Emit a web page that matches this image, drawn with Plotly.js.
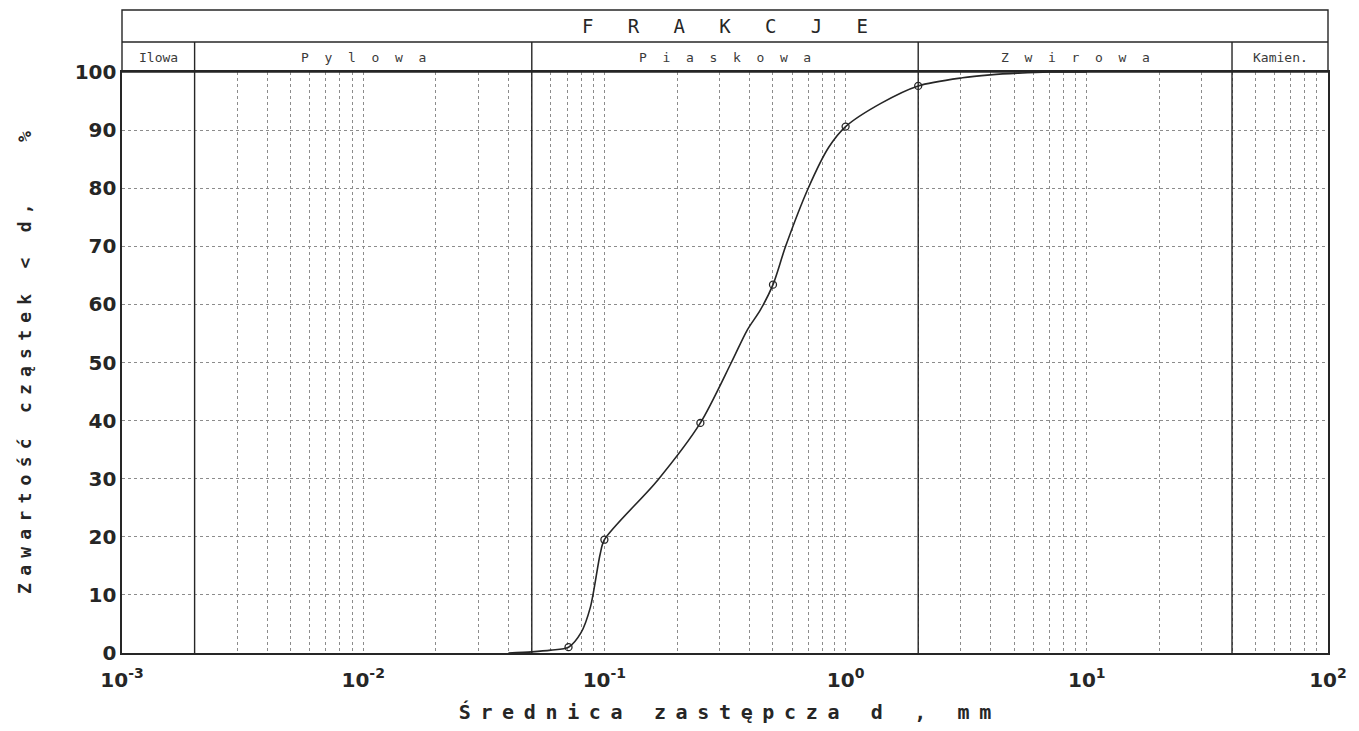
<!DOCTYPE html>
<html>
<head>
<meta charset="utf-8">
<script src="https://cdn.plot.ly/plotly-3.0.1.min.js"></script>
<style>
  html, body { margin: 0; padding: 0; background: #ffffff; }
  #chart { width: 1359px; height: 731px; }
</style>
</head>
<body>
<div id="chart"></div>
<script>
// ---- data ----
const sieveD    = [0.071, 0.1, 0.25, 0.5, 1.0, 2.0];
const sievePass = [1.0, 19.5, 39.6, 63.4, 90.6, 97.6];

const curveD    = [0.04, 0.05, 0.06, 0.071, 0.08, 0.0875, 0.096, 0.1, 0.166, 0.25, 0.336, 0.39, 0.444, 0.5, 0.564, 0.70, 0.85, 1.0, 1.4, 2.0, 3.05, 3.98, 5.2, 7.0, 10.0];
const curvePass = [0, 0.2, 0.5, 1.0, 3.5, 7.9, 17.0, 19.5, 29.7, 39.6, 50.0, 55.5, 59.1, 63.4, 70.0, 80.0, 87.0, 90.6, 94.6, 97.6, 99.0, 99.5, 99.8, 100, 100];

const fractionBounds = [0.002, 0.05, 2, 40];
const fractionNames  = ["Ilowa", "P y l o w a", "P i a s k o w a", "Z w i r o w a", "Kamien."];
const headerTitle    = "FRAKCJE";

const xRange = [0.001, 100];
const decadeExp = [-3, -2, -1, 0, 1, 2];
const yTicks = [0, 10, 20, 30, 40, 50, 60, 70, 80, 90, 100];

const xTitleText = "Średnica zastępcza d , mm";
const yTitleText = "Zawartość cząstek < d,   %";

// ---- helpers ----
const NB = "\u00a0";
// plotter-like letter spacing: every glyph followed by a smaller non-breaking gap
function spaced(s, gapPx) {
  const gap = '<span style="font-size:' + gapPx + 'px">' + NB + '</span>';
  return Array.from(s).map((c, i, a) => (c === " " ? NB : c) + (i < a.length - 1 ? gap : "")).join("");
}

// major ticks at decades, minor grid at 2..9 x decade
const xTickVals = [], xTickText = [], xMinorVals = [];
decadeExp.forEach(e => {
  const d = Math.pow(10, e);
  xTickVals.push(d);
  xTickText.push("10<sup>" + e + "</sup>");
  if (d < xRange[1]) for (let m = 2; m <= 9; m++) xMinorVals.push(m * d);
});

const ink = "#262626";
const gridC = "#8c8c8c";

const traces = [
  {
    x: curveD, y: curvePass, type: "scatter", mode: "lines",
    line: { color: ink, width: 1.6, shape: "spline", smoothing: 0.8 },
    hoverinfo: "skip", showlegend: false
  },
  {
    x: sieveD, y: sievePass, type: "scatter", mode: "markers",
    marker: { symbol: "circle-open", size: 7, color: ink, line: { width: 1.3, color: ink } },
    showlegend: false
  }
];

// header geometry in paper units (above the plot)
const hdrTop = 1.1067, hdrMid = 1.0516;

const shapes = [
  { type: "rect", xref: "paper", yref: "paper", x0: 0, x1: 1, y0: 1, y1: hdrTop, line: { color: ink, width: 1.4 } },
  { type: "line", xref: "paper", yref: "paper", x0: 0, x1: 1, y0: hdrMid, y1: hdrMid, line: { color: ink, width: 1.4 } }
];
fractionBounds.forEach(b => {
  shapes.push({ type: "line", xref: "x", yref: "paper", x0: b, x1: b, y0: 0, y1: hdrMid, line: { color: ink, width: 1.4 } });
});

const edges = [xRange[0]].concat(fractionBounds, [xRange[1]]);
const annotations = [
  { xref: "paper", yref: "paper", x: 0.5, y: (hdrTop + hdrMid) / 2, text: Array.from(headerTitle).join(NB + NB + NB), showarrow: false,
    font: { family: "DejaVu Sans Mono", size: 19, color: ink }, xanchor: "center", yanchor: "middle" }
];
fractionNames.forEach((name, i) => {
  const c = (Math.log10(edges[i]) + Math.log10(edges[i + 1])) / 2;
  annotations.push({ xref: "x", yref: "paper", x: c, y: (hdrMid + 1) / 2, text: name.split(" ").join(NB + NB), showarrow: false,
    font: { family: "DejaVu Sans Mono", size: 13, color: "#3a3a3a" }, xanchor: "center", yanchor: "middle" });
});

const layout = {
  width: 1359, height: 731,
  margin: { l: 122, r: 31, t: 72, b: 78 },
  paper_bgcolor: "#ffffff", plot_bgcolor: "#ffffff",
  showlegend: false,
  xaxis: {
    type: "log", range: [Math.log10(xRange[0]), Math.log10(xRange[1])],
    tickmode: "array", tickvals: xTickVals, ticktext: xTickText,
    showgrid: true, gridcolor: gridC, griddash: "dot", gridwidth: 1,
    minor: { tickmode: "array", tickvals: xMinorVals, showgrid: true, gridcolor: gridC, griddash: "dot", gridwidth: 1, ticks: "" },
    showline: true, linecolor: ink, linewidth: 1.6, mirror: true,
    zeroline: false, ticks: "", ticklabelstandoff: 8,
    tickfont: { family: "DejaVu Sans", size: 20, color: ink, weight: "bold" },
    title: { text: spaced(xTitleText, 16), standoff: 14, font: { family: "DejaVu Sans Mono", size: 20, color: ink, weight: "bold" } }
  },
  yaxis: {
    range: [0, 100], tickmode: "array", tickvals: yTicks,
    showgrid: true, gridcolor: gridC, griddash: "dot", gridwidth: 1,
    showline: true, linecolor: ink, linewidth: 1.6, mirror: true,
    zeroline: false, ticks: "",
    tickfont: { family: "DejaVu Sans", size: 20, color: ink, weight: "bold" },
    title: { text: spaced(yTitleText, 12), standoff: 38, font: { family: "DejaVu Sans Mono", size: 18, color: ink, weight: "bold" } }
  },
  shapes: shapes,
  annotations: annotations
};

Plotly.newPlot("chart", traces, layout, { displayModeBar: false, staticPlot: true });
</script>
</body>
</html>
